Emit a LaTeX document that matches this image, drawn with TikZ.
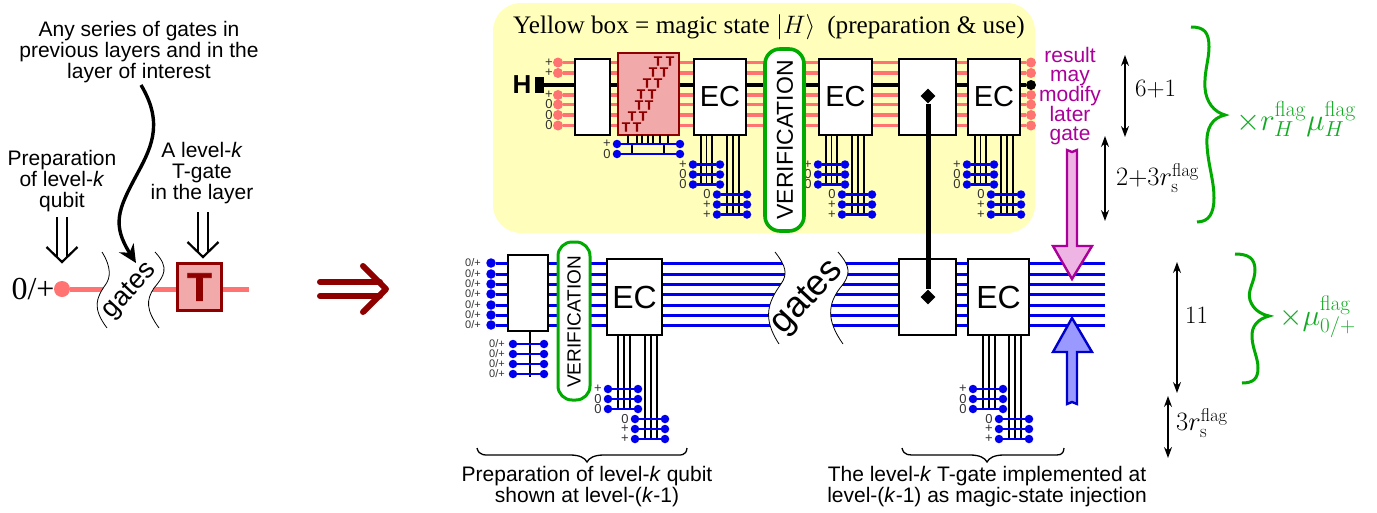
\documentclass[tikz,border=0pt]{standalone}
\usepackage{fix-cm}
\usepackage[no-math]{fontspec}
\setmainfont{Liberation Serif}
\setsansfont{Liberation Sans}
\newfontfamily\heavyfont[BoldFeatures={FakeBold=2}]{Liberation Sans}
\newfontfamily\smallheavy[BoldFeatures={FakeBold=0.8}]{Liberation Sans}
\usetikzlibrary{arrows.meta,calc,shapes.geometric}
\definecolor{redwire}{HTML}{FF7373}
\definecolor{tdark}{HTML}{8E0000}
\definecolor{tfill}{HTML}{F2A9A9}
\definecolor{yellowbg}{HTML}{FFFFBB}
\definecolor{bluewire}{HTML}{0000EE}
\definecolor{greenb}{HTML}{00AA00}
\definecolor{greent}{HTML}{11AA22}
\definecolor{magtext}{HTML}{AA0099}
\definecolor{magfill}{HTML}{EEB4E4}
\newcommand\fsz[1]{\fontsize{#1}{#1}\selectfont}
\tikzset{
  x=1pt,y=-1pt,
  rwire/.style={draw=redwire,line width=3.2pt},
  kwire/.style={draw=black,line width=3.6pt},
  bwire/.style={draw=bluewire,line width=3pt},
  anc/.style={draw=bluewire,line width=2.6pt},
  ancv/.style={draw=black,line width=1.6pt},
  rdot/.style={circle,fill=redwire,inner sep=0pt,minimum size=10pt},
  bdot/.style={circle,fill=bluewire,inner sep=0pt,minimum size=9.5pt},
  sdot/.style={circle,fill=bluewire,inner sep=0pt,minimum size=8.5pt},
  kdot/.style={circle,fill=black,inner sep=0pt,minimum size=10pt},
  gatebox/.style={draw=black,fill=white,line width=1.9pt,inner sep=0pt},
  tbox/.style={draw=tdark,fill=tfill,line width=2.2pt,inner sep=0pt},
  verif/.style={draw=greenb,fill=white,line width=3.6pt,rounded corners=15pt,inner sep=0pt},
  lbl/.style={font=\sffamily\fsz{11},text=black!80,inner sep=0pt},
  lblb/.style={font=\sffamily\fsz{13},text=black!80,inner sep=0pt},
  smtxt/.style={font=\sffamily\fsz{21},align=center,inner sep=0pt},
  captxt/.style={font=\sffamily\fsz{21},align=center,inner sep=0pt},
  eqtxt/.style={inner sep=0pt,anchor=west,font=\fsz{25}},
  ttgate/.style={font=\smallheavy\bfseries\fsz{13.5},text=tdark,inner sep=0pt},
  diam/.style={diamond,fill=black,inner sep=0pt,minimum width=15pt,minimum height=15pt},
  dimarrow/.style={draw=black,line width=1.3pt,{Stealth[length=11pt,width=8pt]}-{Stealth[length=11pt,width=8pt]}},
  thincurve/.style={draw=black,line width=0.8pt},
  bracecurve/.style={draw=black,line width=1.3pt},
  gbrace/.style={draw=greenb,line width=3pt},
  gatetxt/.style={font=\sffamily,inner sep=0pt},
}
% ancilla row: name, x1, x2, y, label
\newcommand\ancrow[5]{%
  \node[sdot] (#1a) at (#2,#4) {};
  \node[sdot] (#1b) at (#3,#4) {};
  \draw[anc] (#1a) -- (#1b);
  \node[lblb] (#1l) at ($(#1a)+(-10,0)$) {#5};
}
% name, x1, x2, ytop, yrow, first offset, step, width
\newcommand\ecblock[8]{%
  \foreach \k in {0,1,2}{
    \draw[ancv] (#2+#6+\k*#7,#4) -- (#2+#6+\k*#7,#5+20);
    \draw[ancv] (#3+10+\k*6,#4) -- (#3+10+\k*6,#5+50);
  }
  \ancrow{#1p}{#2}{#2+#8}{#5}{+}
  \ancrow{#1q}{#2}{#2+#8}{#5+10}{0}
  \ancrow{#1r}{#2}{#2+#8}{#5+20}{0}
  \ancrow{#1s}{#3}{#3+30}{#5+30}{0}
  \ancrow{#1t}{#3}{#3+30}{#5+40}{+}
  \ancrow{#1u}{#3}{#3+30}{#5+50}{+}
}
% double-line hollow arrow
\newcommand\dblarrow[4]{%
  \coordinate (#1top) at (#2,#3);
  \coordinate (#1tip) at (#2,#4);
  \draw[line width=2.2pt] ($(#1top)+(-5,0)$) -- ($(#1tip)+(-5,-5)$);
  \draw[line width=2.2pt] ($(#1top)+(5,0)$) -- ($(#1tip)+(5,-5)$);
  \draw[line width=2.2pt] ($(#1tip)+(-15.5,-15)$) -- (#1tip) -- ($(#1tip)+(15.5,-15)$);
}
\begin{document}
\begin{tikzpicture}
\useasboundingbox (0,0) rectangle (1377,512);
% ---------- left panel ----------
\node[smtxt] (tany) at (139,52) {\fontsize{21}{22.5}\selectfont Any series of gates in\\previous layers and in the\\layer of interest};
\node[smtxt] (tprep) at (62,181) {\fontsize{21}{20}\selectfont Preparation\\of level-\textit{k}\\qubit};
\node[smtxt] (tlev) at (202,173) {\fontsize{21}{21.5}\selectfont A level-\textit{k}\\T-gate\\in the layer};
\dblarrow{da}{62}{217}{262}
\dblarrow{db}{203}{212}{257}
\node[inner sep=0pt,font=\fsz{32}] (zp) at (33,289) {0/+};
\node[rdot,minimum size=16pt] (ld) at (62,289) {};
\coordinate (lend) at (249,289);
\draw[draw=redwire,line width=5pt] (ld) -- (lend);
\path[fill=white] (102,252) .. controls (112,268) and (110,278) .. (106,284) .. controls (96,298) and (92,308) .. (107,328)
  -- (159,328) .. controls (146,310) and (146,300) .. (154,288) .. controls (164,276) and (170,268) .. (155,252) -- cycle;
\draw[thincurve] (102,252) .. controls (112,268) and (110,278) .. (106,284) .. controls (96,298) and (92,308) .. (107,328);
\draw[thincurve] (155,252) .. controls (170,268) and (164,276) .. (154,288) .. controls (146,300) and (146,310) .. (159,328);
\node[gatetxt,rotate=47,font=\sffamily\fsz{27}] (lg) at (130,291) {gates};
\node[tbox,minimum width=44pt,minimum height=47pt,font=\heavyfont\bfseries\fsz{40},text=tdark] (tg) at (199.5,287) {T};
\coordinate (cs) at (141,85);
\coordinate (ce) at (136,263);
\draw[line width=3.4pt,-{Stealth[length=18pt,width=17pt]}] (cs) .. controls (165,125) and (150,150) .. (135,178) .. controls (118,210) and (112,225) .. (ce);
% big arrow
\coordinate (ba1) at (320,282); \coordinate (ba2) at (320,296);
\coordinate (bat) at (386,289);
\draw[draw=tdark,line width=6pt,line cap=round] (ba1) -- (380,282);
\draw[draw=tdark,line width=6pt,line cap=round] (ba2) -- (380,296);
\draw[draw=tdark,line width=6pt,line cap=round,line join=round] (363,266) -- (bat) -- (363,312);
% ---------- yellow box ----------
\path[fill=yellowbg,rounded corners=28pt] (493,3) rectangle (1035,233);
\node[inner sep=0pt,anchor=west,font=\fsz{25.2}] (title) at (513,27) {Yellow box = magic state $\bigl|H\bigr\rangle$\hspace{12pt}(preparation \& use)};
% top wires
\foreach \i/\y/\l in {1/62.5/+,2/73/+,4/95/+,5/104.5/0,6/115/0,7/125.5/0}{
  \node[rdot] (ra\i) at (558,\y) {};
  \node[rdot] (rb\i) at (1031,\y) {};
  \draw[rwire] (ra\i) -- (rb\i);
  \node[lblb] (rl\i) at (549,\y) {\l};
}
\node[kdot] (kb) at (1031,85) {};
\node[inner sep=0pt,fill=black,minimum width=9pt,minimum height=16pt] (hblock) at (539.5,85) {};
\draw[kwire] (hblock) -- (kb);
\node[inner sep=0pt,font=\sffamily\bfseries\fsz{26}] (hh) at (522,85) {H};
% top boxes
\node[gatebox,minimum width=35pt,minimum height=76pt] (b1) at (592.5,97) {};
\node[tbox,minimum width=61pt,minimum height=82pt] (tb) at (648.5,94) {};
\foreach \r/\a/\b/\y in {1/658/670/61,2/653/664/72,3/647/658/83,4/641/652/94,5/639/649/105,6/632/643/116,7/626/637/127}{
  \node[ttgate] (tl\r) at (\a,\y) {T};
  \node[ttgate] (tr\r) at (\b,\y) {T};
}
\foreach \x in {628,637,642,648,653,660,668}{\draw[ancv] (\x,135) -- (\x,144);}
\foreach \x in {632,664}{\draw[ancv] (\x,144) -- (\x,154);}
\ancrow{ta}{617}{680}{144}{+}
\ancrow{tc}{617}{680}{154}{0}
\node[gatebox,minimum width=52pt,minimum height=76pt,font=\sffamily\fsz{29}] (ec1) at (720,97) {EC};
\node[gatebox,minimum width=53pt,minimum height=76pt,font=\sffamily\fsz{29}] (ec2) at (845.5,97) {EC};
\node[gatebox,minimum width=57pt,minimum height=76pt] (cn) at (927.5,97) {};
\node[gatebox,minimum width=52pt,minimum height=76pt,font=\sffamily\fsz{29}] (ec3) at (994,97) {EC};
\ecblock{ea}{693}{717}{135}{164.5}{8}{5.5}{27}
\ecblock{eb}{818}{842}{135}{164.5}{8}{5.5}{27}
\ecblock{ec}{967}{991}{135}{164.5}{8}{5.5}{27}
% top verification
\node[verif,minimum width=39pt,minimum height=182pt] (v1) at (784.5,140) {};
\node[rotate=90,inner sep=0pt,font=\sffamily\fsz{23}] (v1t) at (785,140) {VERIFICATION};
% ---------- lower wires ----------
\foreach \i/\y in {1/263,2/274,3/284,4/294,5/305,6/315,7/325}{
  \node[bdot] (la\i) at (491,\y) {};
  \coordinate (lb\i) at (1105,\y);
  \draw[bwire] (la\i) -- (lb\i);
  \node[lbl] (ll\i) at (473,\y) {0/+};
}
% lower gates gap
\path[fill=white] (775,252) .. controls (786,266) and (788,274) .. (781,284) .. controls (768,302) and (762,318) .. (779,344)
  -- (843,344) .. controls (826,320) and (828,304) .. (840,288) .. controls (852,274) and (850,266) .. (838,252) -- cycle;
\draw[thincurve] (775,252) .. controls (786,266) and (788,274) .. (781,284) .. controls (768,302) and (762,318) .. (779,344);
\draw[thincurve] (838,252) .. controls (850,266) and (852,274) .. (840,288) .. controls (828,304) and (826,320) .. (843,344);
\node[gatetxt,rotate=47,font=\sffamily\fsz{36}] (lgg) at (808,298) {gates};
% lower boxes
\node[gatebox,minimum width=40pt,minimum height=76pt] (l1) at (528,293) {};
\coordinate (l1e) at (530,377);
\draw[ancv,line width=2.2pt] (530,331) -- (l1e);
\foreach \n/\y in {a/344,b/354,c/364,d/374}{
  \node[sdot] (pa\n) at (513,\y) {};
  \node[sdot] (pb\n) at (544,\y) {};
  \draw[anc] (pa\n) -- (pb\n);
  \node[lbl] (pl\n) at (497,\y) {0/+};
}
\node[verif,line width=3pt,rounded corners=14pt,minimum width=32pt,minimum height=158pt] (v2) at (574,321) {};
\node[rotate=90,inner sep=0pt,font=\sffamily\fsz{19}] (v2t) at (574,322) {VERIFICATION};
\node[gatebox,minimum width=55pt,minimum height=76pt,font=\sffamily\fsz{32}] (ec4) at (634.5,297) {EC};
\node[gatebox,minimum width=57pt,minimum height=76pt] (cn2) at (927.5,297) {};
\node[gatebox,minimum width=61pt,minimum height=76pt,font=\sffamily\fsz{32}] (ec5) at (998.5,297) {EC};
\ecblock{ed}{608}{635}{335}{389}{10}{6}{30}
\ecblock{ee}{973}{999}{335}{389}{10}{6}{30}
% CNOT
\node[diam] (d1) at (928,96) {};
\node[diam] (d2) at (928,297) {};
\draw[line width=5pt] (d1) -- (d2);
% ---------- magenta / blue arrows ----------
\node[inner sep=0pt,align=center,text=magtext,font=\sffamily\fontsize{21}{19.6}\selectfont] (res) at (1070,96) {result\\may\\modify\\later\\gate};
\path[fill=magfill,draw=magtext,line width=2.4pt,line join=miter] (1067,150) -- (1072,152) -- (1077,150) -- (1077,246) -- (1092,246) -- (1072,279) -- (1053,246) -- (1067,246) -- cycle;
\path[fill=blue!40!white,draw=blue!80!black,line width=2.4pt,line join=miter] (1067,404) -- (1072,402) -- (1077,404) -- (1077,352) -- (1092,352) -- (1072,318) -- (1053,352) -- (1067,352) -- cycle;
% ---------- braces ----------
\coordinate (bla) at (477,448); \coordinate (blt) at (587,462); \coordinate (blb) at (687,448);
\draw[bracecurve] (bla) .. controls (479,456) and (484,455) .. (495,455) -- (570,455) .. controls (580,455) and (585,458) .. (blt) .. controls (589,458) and (594,455) .. (604,455) -- (672,455) .. controls (682,455) and (686,456) .. (blb);
\coordinate (bra) at (902,448); \coordinate (brt) at (987,462); \coordinate (brb) at (1064,448);
\draw[bracecurve] (bra) .. controls (904,456) and (909,455) .. (918,455) -- (970,455) .. controls (980,455) and (985,458) .. (brt) .. controls (989,458) and (994,455) .. (1004,455) -- (1050,455) .. controls (1060,455) and (1063,456) .. (brb);
\node[captxt] (c1) at (587,487) {\fontsize{21}{21.5}\selectfont Preparation of level-\textit{k} qubit\\shown at level-(\textit{k}-1)};
\node[captxt] (c2) at (987,487) {\fontsize{21}{21.5}\selectfont The level-\textit{k} T-gate implemented at\\level-(\textit{k}-1) as magic-state injection};
% ---------- dimensions ----------
\coordinate (d1a) at (1125,55); \coordinate (d1b) at (1125,137);
\draw[dimarrow] (d1a) -- (d1b);
\node[eqtxt] (n1) at (1135,89) {$6{+}1$};
\coordinate (d2a) at (1105,136); \coordinate (d2b) at (1105,221);
\draw[dimarrow] (d2a) -- (d2b);
\node[eqtxt,font=\fsz{26.5}] (n2) at (1116,178) {$2{+}3r_{\mathrm{s}}^{\mathrm{flag}}$};
\coordinate (d3a) at (1177,262); \coordinate (d3b) at (1177,393);
\draw[dimarrow] (d3a) -- (d3b);
\node[eqtxt] (n3) at (1185,315) {$11$};
\coordinate (d4a) at (1168,396); \coordinate (d4b) at (1168,458);
\draw[dimarrow] (d4a) -- (d4b);
\node[eqtxt,font=\fsz{26.5}] (n4) at (1176,423) {$3r_{\mathrm{s}}^{\mathrm{flag}}$};
% green braces
\draw[gbrace] (1191,27) .. controls (1204,27) and (1209,32) .. (1209,47) .. controls (1209,60) and (1204,72) .. (1205,88) .. controls (1206,102) and (1214,112) .. (1225,115) .. controls (1212,118) and (1206,128) .. (1207,145) .. controls (1208,165) and (1214,180) .. (1214,198) .. controls (1214,213) and (1209,222) .. (1197,222);
\draw[gbrace] (1235,254) .. controls (1248,254) and (1255,258) .. (1255,270) .. controls (1255,282) and (1247,290) .. (1250,300) .. controls (1253,309) and (1260,314) .. (1269,316) .. controls (1258,319) and (1251,326) .. (1252,338) .. controls (1253,350) and (1258,358) .. (1258,368) .. controls (1258,379) and (1253,383) .. (1242,383);
\node[eqtxt,text=greent,font=\fsz{31}] (g1) at (1236,119) {$\times r_H^{\mathrm{flag}}\mu_H^{\mathrm{flag}}$};
\node[eqtxt,text=greent,font=\fsz{30}] (g2) at (1279,317) {$\times \mu_{0/+}^{\mathrm{flag}}$};
\end{tikzpicture}
\end{document}
